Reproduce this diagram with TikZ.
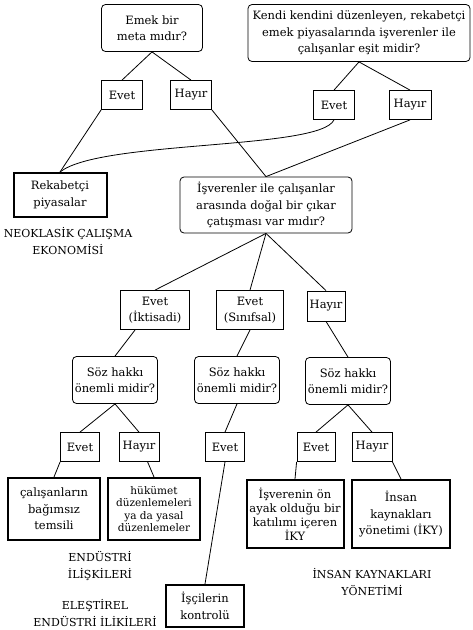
\documentclass[tikz,border=0pt]{standalone}
\usepackage{fontspec}
\setmainfont{DejaVu Serif}
\tikzset{
  soru/.style={draw,rounded corners=4pt,line width=.8pt,align=center,inner sep=2pt,font=\fontsize{11.5}{16.5}\selectfont},
  cevap/.style={draw,line width=.8pt,align=center,inner sep=2pt,font=\fontsize{11.5}{16.5}\selectfont},
  sonuc/.style={draw,line width=2pt,align=center,inner sep=2pt,font=\fontsize{11.5}{16.5}\selectfont},
  etiket/.style={align=center,inner sep=0pt,font=\fontsize{11}{17}\selectfont},
}

\begin{document}
\begin{tikzpicture}[x=1pt,y=-1pt,line width=.8pt]
\path[use as bounding box] (0,0) rectangle (472,630);
\node[soru,minimum width=101pt,minimum height=47pt] (meta) at (152,28) {Emek bir\\meta mıdır?};
\node[soru,minimum width=222pt,minimum height=57pt] (esit) at (359,33) {Kendi kendini düzenleyen, rekabetçi\\emek piyasalarında işverenler ile\\çalışanlar eşit midir?};
\node[cevap,minimum width=41pt,minimum height=29pt] (evet1) at (122,95) {Evet};
\node[cevap,minimum width=41pt,minimum height=29pt] (hayir1) at (191,95) {Hayır};
\node[cevap,minimum width=41pt,minimum height=29pt] (evet2) at (334,105) {Evet};
\node[cevap,minimum width=42pt,minimum height=29pt] (hayir2) at (410,105) {Hayır};
\node[sonuc,minimum width=93pt,minimum height=44pt] (rekabet) at (60,195) {Rekabetçi\\piyasalar};
\node[etiket] (neoklasik) at (68,241) {NEOKLASİK ÇALIŞMA\\EKONOMİSİ};
\node[soru,minimum width=172pt,minimum height=56pt] (catisma) at (266,205) {İşverenler ile çalışanlar\\arasında doğal bir çıkar\\çatışması var mıdır?};
\node[cevap,minimum width=69pt,minimum height=39pt] (iktisadi) at (155,310) {Evet\\(İktisadi)};
\node[cevap,minimum width=67pt,minimum height=39pt] (sinifsal) at (250,310) {Evet\\(Sınıfsal)};
\node[cevap,minimum width=38pt,minimum height=30pt] (hayir3) at (326,306) {Hayır};
\node[soru,minimum width=85pt,minimum height=47pt] (soz1) at (115,380) {Söz hakkı\\önemli midir?};
\node[soru,minimum width=85pt,minimum height=47pt] (soz2) at (237,380) {Söz hakkı\\önemli midir?};
\node[soru,minimum width=85pt,minimum height=47pt] (soz3) at (348,381) {Söz hakkı\\önemli midir?};
\node[cevap,minimum width=39pt,minimum height=29pt] (evet3) at (80,447) {Evet};
\node[cevap,minimum width=40pt,minimum height=29pt] (hayir4) at (139,447) {Hayır};
\node[cevap,minimum width=39pt,minimum height=29pt] (evet4) at (225,447) {Evet};
\node[cevap,minimum width=38pt,minimum height=29pt] (evet5) at (316,447) {Evet};
\node[cevap,minimum width=40pt,minimum height=29pt] (hayir5) at (372,447) {Hayır};
\node[sonuc,minimum width=92pt,minimum height=62pt] (temsil) at (54,509) {çalışanların\\bağımsız\\temsili};
\node[sonuc,minimum width=92pt,minimum height=62pt,font=\fontsize{10.5}{12.5}\selectfont] (hukumet) at (154,509) {hükümet\\düzenlemeleri\\ya da yasal\\düzenlemeler};
\node[sonuc,minimum width=97pt,minimum height=68pt,font=\fontsize{11.5}{14}\selectfont] (katilim) at (295,514) {İşverenin ön\\ayak olduğu bir\\katılımı içeren\\İKY};
\node[sonuc,minimum width=98pt,minimum height=68pt] (iky) at (401,514) {İnsan\\kaynakları\\yönetimi (İKY)};
\node[sonuc,minimum width=78pt,minimum height=42pt] (kontrol) at (205,606) {İşçilerin\\kontrolü};
\node[etiket] (endustri) at (100,566) {ENDÜSTRİ\\İLİŞKİLERİ};
\node[etiket] (elestirel) at (95,613) {ELEŞTİREL\\ENDÜSTRİ İLİKİLERİ};
\node[etiket] (ikyetiket) at (372,582) {İNSAN KAYNAKLARI\\YÖNETİMİ};
\draw (meta.south) -- (evet1.north);
\draw (meta.south) -- (hayir1.north);
\draw (esit.south) -- (evet2.north);
\draw (esit.south) -- (hayir2.north);
\draw (evet1.south west) -- (rekabet.north);
\draw (rekabet.north) .. controls (100,140) and (320,150) .. (evet2.south);
\draw (hayir1.south east) -- (catisma.north);
\draw (hayir2.south) -- (catisma.north);
\draw (catisma.south) -- (iktisadi.north);
\draw (catisma.south) -- (sinifsal.north);
\draw (catisma.south) -- (hayir3.north);
\draw (iktisadi.225) -- (soz1.north);
\draw (sinifsal.south) -- (soz2.north);
\draw (hayir3.south) -- (soz3.north);
\draw (soz1.south) -- (evet3.north);
\draw (soz1.south) -- (hayir4.north);
\draw (soz2.south) -- (evet4.north);
\draw (soz3.south) -- (evet5.north);
\draw (soz3.south) -- (hayir5.north);
\draw (evet3.south west) -- (temsil.north);
\draw (hayir4.-60) -- (hukumet.north);
\draw (evet4.south) -- (kontrol.north);
\draw (evet5.south west) -- (katilim.north);
\draw (hayir5.south east) -- (iky.north);
\end{tikzpicture}
\end{document}
